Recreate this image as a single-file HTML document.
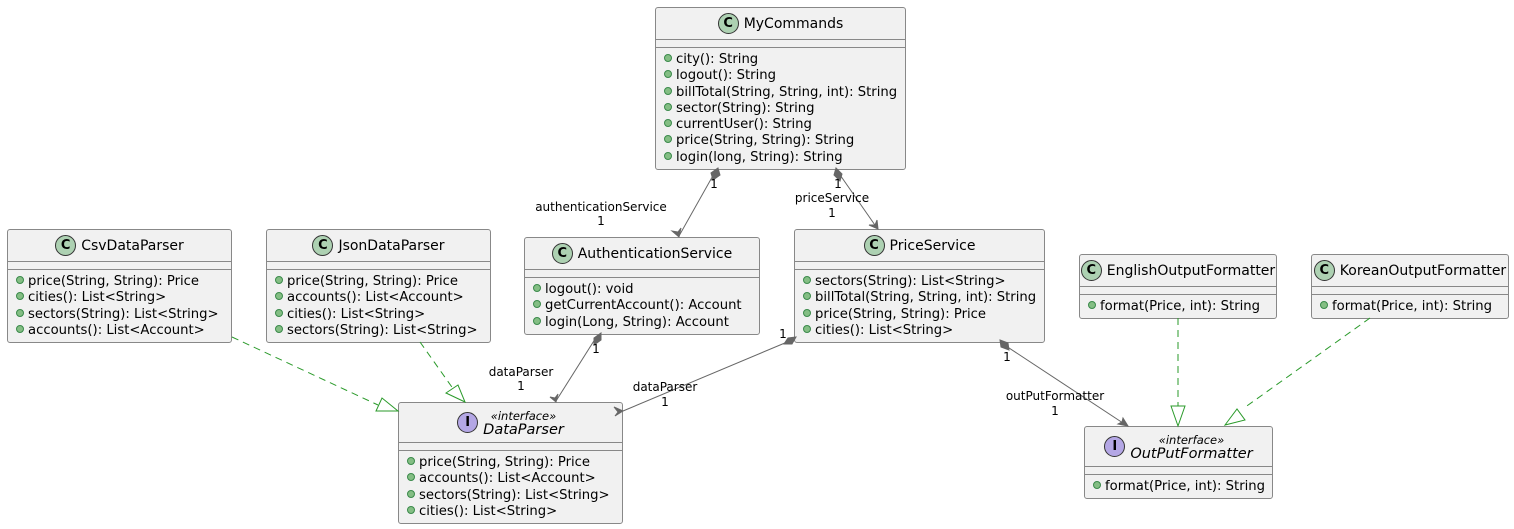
<!DOCTYPE html>
<html><head><meta charset="utf-8"><style>
body{margin:0;width:1514px;height:529px;background:#fff;position:relative;overflow:hidden;font-family:"DejaVu Sans","Liberation Sans",sans-serif;color:#000}
.b{position:absolute;box-sizing:border-box;border:1px solid #888;border-radius:3px;background:#f1f1f1}
.h{height:31px;display:flex;align-items:center;justify-content:center;font-size:14px;white-space:nowrap}
.hi{height:39px}
.ic{width:21px;height:21px;border-radius:50%;border:1px solid #333;box-sizing:border-box;display:flex;align-items:center;justify-content:center;font-weight:bold;font-size:13px;margin-right:5px;flex:none}
.c{background:#add1b2}.i{background:#b4a7e5}
.sep{height:7px;border-top:1px solid #888;border-bottom:1px solid #888}
.m{padding:4px 0 0 8px;font-size:13.2px;line-height:16.3px;white-space:nowrap}
.m div::before{content:"";display:inline-block;width:6px;height:6px;border-radius:50%;background:#84be84;border:1px solid #3a8a4a;margin-right:4px;vertical-align:1px}
.st{font-style:italic;text-align:center;line-height:14px;font-size:14.5px}
.st small{font-size:11.5px;display:block}
svg{position:absolute;left:0;top:0}
svg text{font-family:"DejaVu Sans",sans-serif;font-size:12px;text-anchor:middle}
</style></head><body>

<div class="b" style="left:655px;top:7px;width:251px;height:163px"><div class="h"><span class="ic c">C</span>MyCommands</div><div class="sep"></div><div class="m"><div>city(): String</div><div>logout(): String</div><div>billTotal(String, String, int): String</div><div>sector(String): String</div><div>currentUser(): String</div><div>price(String, String): String</div><div>login(long, String): String</div></div></div>

<div class="b" style="left:7px;top:229px;width:225px;height:114px"><div class="h"><span class="ic c">C</span>CsvDataParser</div><div class="sep"></div><div class="m"><div>price(String, String): Price</div><div>cities(): List&lt;String&gt;</div><div>sectors(String): List&lt;String&gt;</div><div>accounts(): List&lt;Account&gt;</div></div></div>

<div class="b" style="left:266px;top:229px;width:225px;height:114px"><div class="h"><span class="ic c">C</span>JsonDataParser</div><div class="sep"></div><div class="m"><div>price(String, String): Price</div><div>accounts(): List&lt;Account&gt;</div><div>cities(): List&lt;String&gt;</div><div>sectors(String): List&lt;String&gt;</div></div></div>

<div class="b" style="left:524px;top:237px;width:236px;height:98px"><div class="h"><span class="ic c">C</span>AuthenticationService</div><div class="sep"></div><div class="m"><div>logout(): void</div><div>getCurrentAccount(): Account</div><div>login(Long, String): Account</div></div></div>

<div class="b" style="left:794px;top:229px;width:251px;height:114px"><div class="h"><span class="ic c">C</span>PriceService</div><div class="sep"></div><div class="m"><div>sectors(String): List&lt;String&gt;</div><div>billTotal(String, String, int): String</div><div>price(String, String): Price</div><div>cities(): List&lt;String&gt;</div></div></div>

<div class="b" style="left:1079px;top:254px;width:198px;height:65px"><div class="h"><span class="ic c">C</span>EnglishOutputFormatter</div><div class="sep"></div><div class="m"><div>format(Price, int): String</div></div></div>

<div class="b" style="left:1311px;top:254px;width:198px;height:65px"><div class="h"><span class="ic c">C</span>KoreanOutputFormatter</div><div class="sep"></div><div class="m"><div>format(Price, int): String</div></div></div>

<div class="b" style="left:398px;top:402px;width:225px;height:122px"><div class="h hi"><span class="ic i">I</span><div class="st"><small>«interface»</small>DataParser</div></div><div class="sep"></div><div class="m"><div>price(String, String): Price</div><div>accounts(): List&lt;Account&gt;</div><div>sectors(String): List&lt;String&gt;</div><div>cities(): List&lt;String&gt;</div></div></div>

<div class="b" style="left:1084px;top:426px;width:189px;height:73px"><div class="h hi"><span class="ic i">I</span><div class="st"><small>«interface»</small>OutPutFormatter</div></div><div class="sep"></div><div class="m"><div>format(Price, int): String</div></div></div>

<svg width="1514" height="529">
<g stroke="#666" fill="none" stroke-width="1">
<line x1="715" y1="172" x2="679" y2="236"/>
<line x1="838" y1="172" x2="877" y2="228"/>
<line x1="597" y1="336" x2="556" y2="401"/>
<line x1="792" y1="340" x2="623" y2="411"/>
<line x1="1003" y1="344" x2="1126" y2="425"/>
</g>
<g fill="#666" stroke="#666">
<polygon points="718,168 720,175 713,180 711,173"/>
<polygon points="836,168 842,174 840,181 834,175"/>
<polygon points="601,333 601,340 594,345 594,338"/>
<polygon points="796,337 792,344 784,344 788,338"/>
<polygon points="1000,340 1008,343 1009,350 1001,347"/>
<polygon points="672,231 679,237 681,228 678,232"/>
<polygon points="869,225 878,229 877,220 875,225"/>
<polygon points="550,397 556,402 558,394 555,398"/>
<polygon points="615,416 623,411 614,407 618,412"/>
<polygon points="1118,424 1128,426 1123,418 1122,422"/>
</g>
<g stroke="#2a9a2a" stroke-dasharray="7,5" fill="none">
<line x1="232" y1="337" x2="378" y2="405"/>
<line x1="420" y1="342" x2="454" y2="390"/>
<line x1="1178" y1="318" x2="1178" y2="406"/>
<line x1="1370" y1="318" x2="1244" y2="408"/>
</g>
<g stroke="#2a9a2a" fill="#fff">
<polygon points="398,411 376,411 382,398"/>
<polygon points="465,402 446,393 458,385"/>
<polygon points="1178,426 1171,406 1185,406"/>
<polygon points="1225,425 1237,409 1245,420"/>
</g>
<text x="714" y="188">1</text>
<text x="601" y="211">authenticationService</text>
<text x="601" y="225">1</text>
<text x="838" y="188">1</text>
<text x="832" y="202">priceService</text>
<text x="832" y="217">1</text>
<text x="596" y="353">1</text>
<text x="521" y="376">dataParser</text>
<text x="521" y="390">1</text>
<text x="783" y="338">1</text>
<text x="665" y="391">dataParser</text>
<text x="665" y="406">1</text>
<text x="1007" y="361">1</text>
<text x="1055" y="400">outPutFormatter</text>
<text x="1055" y="415">1</text>
</svg>
</body></html>
